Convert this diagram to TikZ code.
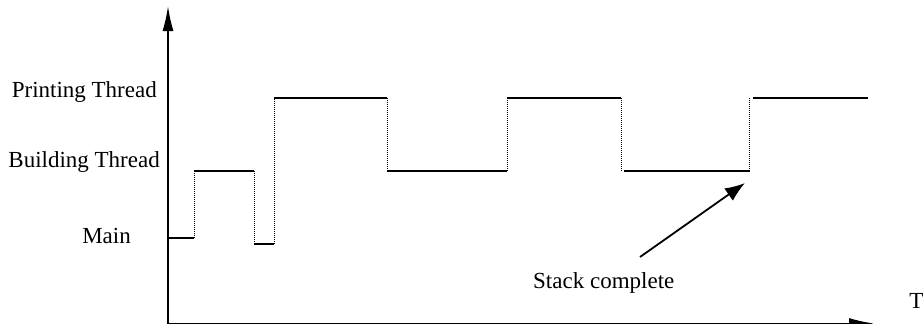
\documentclass[tikz,border=0pt]{standalone}
\usepackage{fontspec}
\setmainfont{Liberation Serif}
\usetikzlibrary{arrows.meta}
\begin{document}
\begin{tikzpicture}[x=1pt,y=-1pt,
  axisline/.style={line width=1.6pt,-{Latex[length=25pt,width=11pt]}},
  level/.style={line width=1.6pt},
  jump/.style={line width=1pt,dash pattern=on 1pt off 1pt},
  pointer/.style={line width=1.8pt,-{Latex[length=20pt,width=15pt]}},
  lbl/.style={font=\fontsize{23}{27}\selectfont,inner sep=0pt}]
\useasboundingbox (0,0) rectangle (924,324);
% axes
\coordinate (O) at (168,323.5);
\coordinate (Ytop) at (168,6);
\coordinate (Xend) at (874,323.5);
\draw[axisline] (O) -- (Ytop);
\draw[axisline] (O) -- (Xend);
% labels
\node[lbl,anchor=base east] (pt) at (157,97) {Printing Thread};
\node[lbl,anchor=base east] (bt) at (160,167) {Building Thread};
\node[lbl,anchor=base east] (mn) at (131,243) {Main};
\node[lbl,anchor=base west] (sc) at (533,288) {Stack complete};
\node[lbl,anchor=base east] (tm) at (923.5,308) {T};
% step levels
\draw[level] (168,238) -- (194,238);
\draw[level] (194,171) -- (254,171);
\draw[level] (254,244) -- (274,244);
\draw[level] (274,98) -- (387,98);
\draw[level] (387,171) -- (507,171);
\draw[level] (507,98) -- (621,98);
\draw[level] (624,171) -- (750,171);
\draw[level] (753,98) -- (868,98);
% transitions
\draw[jump] (194,238) -- (194,171);
\draw[jump] (254,171) -- (254,244);
\draw[jump] (274,244) -- (274,98);
\draw[jump] (387,98) -- (387,171);
\draw[jump] (507,171) -- (507,98);
\draw[jump] (621,98) -- (621,171);
\draw[jump] (749.5,171) -- (749.5,98);
% pointer
\coordinate (ps) at (640,257);
\coordinate (pe) at (745,183);
\draw[pointer] (ps) -- (pe);
\end{tikzpicture}
\end{document}
